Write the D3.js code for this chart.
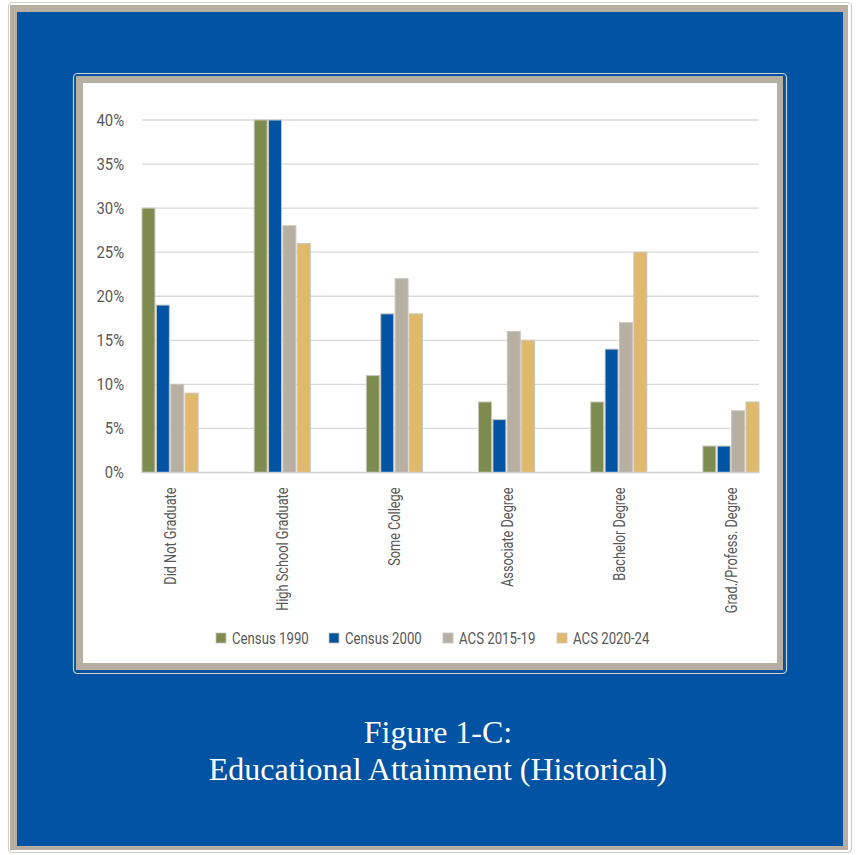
<!DOCTYPE html>
<html>
<head>
<meta charset="utf-8">
<script src="https://cdn.jsdelivr.net/npm/d3@7/dist/d3.min.js"></script>
<style>
  html, body { margin: 0; padding: 0; background: #ffffff; }
  svg { display: block; }
</style>
</head>
<body>
<svg id="chart" width="858" height="855"></svg>
<script>
// Educational attainment by census / survey period (percent of population)
const categories = ["Did Not Graduate", "High School Graduate", "Some College",
                    "Associate Degree", "Bachelor Degree", "Grad./Profess. Degree"];
const seriesNames = ["Census 1990", "Census 2000", "ACS 2015-19", "ACS 2020-24"];
const census1990 = [30, 40, 11, 8, 8, 3];
const census2000 = [19, 40, 18, 6, 14, 3];
const acs2015_19 = [10, 28, 22, 16, 17, 7];
const acs2020_24 = [9, 26, 18, 15, 25, 8];
const yTicks = [0, 5, 10, 15, 20, 25, 30, 35, 40];
const seriesColors = ["#7E8B4F", "#0153A4", "#B8AFA3", "#E0B96C"];
const titleLines = ["Figure 1-C:", "Educational Attainment (Historical)"];

const seriesValues = [census1990, census2000, acs2015_19, acs2020_24];
const rows = categories.map((c, i) => ({
  category: c,
  values: seriesNames.map((s, k) => ({ series: s, value: seriesValues[k][i], k }))
}));

const svg = d3.select("#chart");
// condensed look: Roboto squeezed horizontally
const labelFont = "Roboto, 'DejaVu Sans Condensed', sans-serif";
const textGray = "#595959";

// ---- decorative frames ----
const frameLine = "#D3CFC9";
const beige = "#B8AFA3";
const navy = "#0153A4";

svg.append("rect").attr("x", 8.5).attr("y", 2.5).attr("width", 843).attr("height", 850)
  .attr("rx", 4).attr("fill", "#ffffff").attr("stroke", frameLine).attr("stroke-width", 1.2);
svg.append("rect").attr("x", 10).attr("y", 5).attr("width", 838).attr("height", 845)
  .attr("fill", beige);
svg.append("rect").attr("x", 17).attr("y", 12).attr("width", 826).attr("height", 834)
  .attr("fill", navy);

// inner panel holding the chart
svg.append("rect").attr("x", 73.5).attr("y", 73.5).attr("width", 713).attr("height", 600)
  .attr("rx", 4).attr("fill", navy).attr("stroke", frameLine).attr("stroke-width", 1.2);
svg.append("rect").attr("x", 76).attr("y", 76).attr("width", 707).attr("height", 594)
  .attr("fill", beige);
svg.append("rect").attr("x", 83).attr("y", 83).attr("width", 694).attr("height", 580)
  .attr("fill", "#ffffff");

// ---- chart ----
const plot = { left: 142, right: 759, top: 120, bottom: 472.5 };

const x0 = d3.scaleBand().domain(categories)
  .range([plot.left, plot.right]).paddingInner(0.5).paddingOuter(0);
const x1 = d3.scaleBand().domain(seriesNames)
  .range([0, x0.bandwidth()]).paddingInner(0.1).paddingOuter(0);
const y = d3.scaleLinear().domain([0, 40]).range([plot.bottom, plot.top]);

// gridlines
svg.append("g")
  .selectAll("line").data(yTicks.filter(t => t > 0)).join("line")
  .attr("x1", plot.left).attr("x2", plot.right)
  .attr("y1", d => y(d)).attr("y2", d => y(d))
  .attr("stroke", "#D9D9D9").attr("stroke-width", 1.3);

// y axis labels
const yAxis = d3.axisLeft(y).tickValues(yTicks).tickFormat(d => d + "%").tickSize(0).tickPadding(0);
const yg = svg.append("g").attr("transform", `translate(124,0)`).call(yAxis);
yg.select(".domain").remove();
yg.selectAll("text")
  .attr("font-family", labelFont).attr("font-size", 16.5).attr("fill", textGray)
  .attr("transform", "scale(0.9,1)").attr("x", 0);

// bars
const groups = svg.append("g").selectAll("g").data(rows).join("g")
  .attr("transform", d => `translate(${x0(d.category)},0)`);
groups.selectAll("rect").data(d => d.values).join("rect")
  .attr("x", d => x1(d.series))
  .attr("y", d => y(d.value))
  .attr("width", x1.bandwidth())
  .attr("height", d => y(0) - y(d.value))
  .attr("fill", d => seriesColors[d.k])
  .attr("stroke", "#C9C4BC").attr("stroke-width", 1);

// baseline
svg.append("line")
  .attr("x1", plot.left).attr("x2", plot.right)
  .attr("y1", y(0)).attr("y2", y(0))
  .attr("stroke", "#D0D0D0").attr("stroke-width", 1.3);

// category labels, rotated
const xAxis = d3.axisBottom(x0).tickSize(0).tickPadding(0);
const xg = svg.append("g").attr("transform", `translate(0,${plot.bottom})`).call(xAxis);
xg.select(".domain").remove();
xg.selectAll("text")
  .attr("font-family", labelFont).attr("font-size", 17).attr("fill", textGray)
  .attr("text-anchor", "end")
  .attr("transform", "translate(0,15) rotate(-90) scale(0.75,1)")
  .attr("x", 0).attr("y", 0).attr("dy", "0.35em");

// legend
const legendX = [232, 345, 459, 573];
const legend = svg.append("g").selectAll("g").data(seriesNames).join("g")
  .attr("transform", (d, i) => `translate(${legendX[i]},638)`);
legend.append("rect")
  .attr("x", -16).attr("y", -5).attr("width", 10).attr("height", 10)
  .attr("fill", (d, i) => seriesColors[i])
  .attr("stroke", "#C9C4BC").attr("stroke-width", 0.8);
legend.append("text")
  .attr("x", 0).attr("y", 0).attr("dy", "0.35em")
  .attr("transform", "scale(0.8,1)")
  .attr("font-family", labelFont).attr("font-size", 16.5).attr("fill", textGray)
  .text(d => d);

// caption below the panel
svg.append("g").selectAll("text").data(titleLines).join("text")
  .attr("x", 438).attr("y", (d, i) => 743 + i * 37)
  .attr("text-anchor", "middle")
  .attr("font-family", "'Liberation Serif', 'Times New Roman', serif")
  .attr("font-size", 32).attr("fill", "#ffffff")
  .text(d => d);
</script>
</body>
</html>
